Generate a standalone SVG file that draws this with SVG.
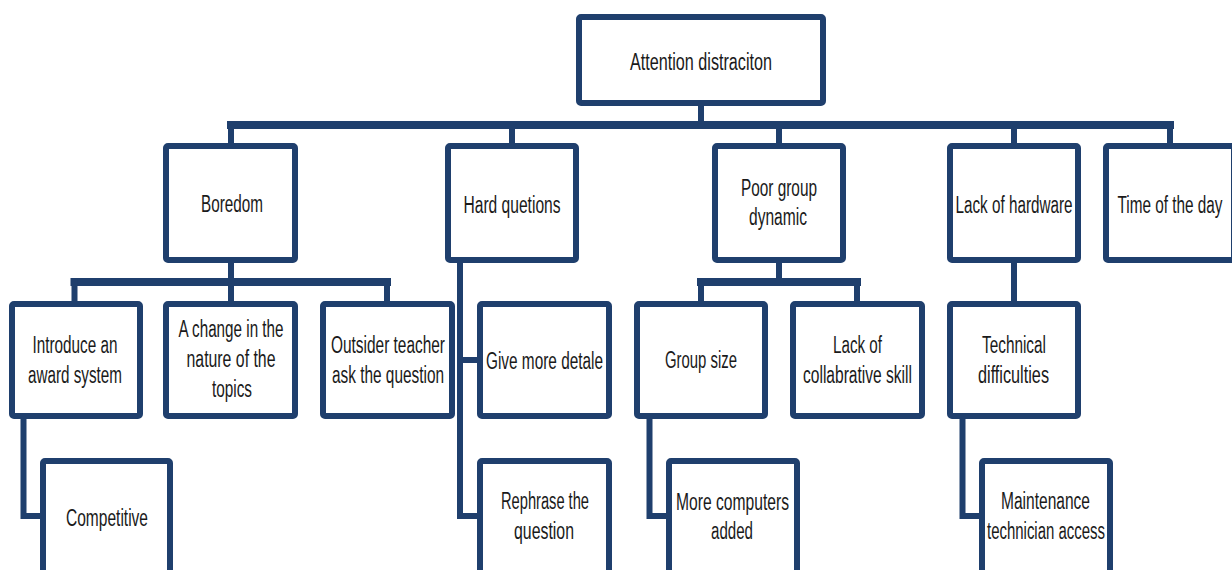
<svg xmlns="http://www.w3.org/2000/svg" width="1232" height="570" viewBox="0 0 1232 570">
<style>
.box{fill:#fff;stroke:#1f3f6d;stroke-width:6;}
.ln{fill:none;stroke:#1f3f6d;stroke-width:6;stroke-linecap:square;}
.bus{fill:none;stroke:#1f3f6d;stroke-width:8;stroke-linecap:square;}
text{font-family:"Liberation Sans",Arial,sans-serif;font-size:23px;fill:#1a1a1a;text-anchor:middle;}
</style>
<rect width="1232" height="570" fill="#fff"/>
<g id="connectors">
<path class="ln" d="M701,106V125"/>
<path class="bus" d="M231,125H1170"/>
<path class="ln" d="M231,125V143M512,125V143M779,125V143M1014,125V143M1170,125V143"/>
<path class="ln" d="M231,263V282"/>
<path class="bus" d="M74.5,282H387"/>
<path class="ln" d="M74.5,282V301M231,282V301M387,282V301"/>
<path class="ln" d="M460,263V516H477M460,360H477"/>
<path class="ln" d="M779,263V282"/>
<path class="bus" d="M701,282H857"/>
<path class="ln" d="M701,282V301M857,282V301"/>
<path class="ln" d="M1014,263V301"/>
<path class="ln" d="M23.5,419V516H40"/>
<path class="ln" d="M649.5,419V516H666"/>
<path class="ln" d="M962.5,419V516H979"/>
</g>
<g id="n-root"><rect class="box" x="579" y="17" width="244" height="86" rx="2"/><text x="701" y="70" textLength="142" lengthAdjust="spacingAndGlyphs">Attention distraciton</text></g>
<g id="n-boredom"><rect class="box" x="166" y="146" width="129" height="114" rx="2"/><text x="232" y="212" textLength="62" lengthAdjust="spacingAndGlyphs">Boredom</text></g>
<g id="n-hard"><rect class="box" x="448" y="146" width="128" height="114" rx="2"/><text x="512" y="213" textLength="97" lengthAdjust="spacingAndGlyphs">Hard quetions</text></g>
<g id="n-poor"><rect class="box" x="715" y="146" width="128" height="114" rx="2"/><text x="779" y="196" textLength="76" lengthAdjust="spacingAndGlyphs">Poor group</text><text x="778" y="225" textLength="58" lengthAdjust="spacingAndGlyphs">dynamic</text></g>
<g id="n-hardware"><rect class="box" x="950" y="146" width="128" height="114" rx="2"/><text x="1014" y="213" textLength="117" lengthAdjust="spacingAndGlyphs">Lack of hardware</text></g>
<g id="n-time"><rect class="box" x="1106" y="146" width="128" height="114" rx="2"/><text x="1170" y="213" textLength="105" lengthAdjust="spacingAndGlyphs">Time of the day</text></g>
<g id="n-introduce"><rect class="box" x="12" y="304" width="128" height="112" rx="2"/><text x="75" y="353" textLength="85" lengthAdjust="spacingAndGlyphs">Introduce an</text><text x="75" y="383" textLength="94" lengthAdjust="spacingAndGlyphs">award system</text></g>
<g id="n-change"><rect class="box" x="166" y="304" width="129" height="112" rx="2"/><text x="231" y="337" textLength="105" lengthAdjust="spacingAndGlyphs">A change in the</text><text x="231" y="367" textLength="89" lengthAdjust="spacingAndGlyphs">nature of the</text><text x="232" y="397" textLength="40" lengthAdjust="spacingAndGlyphs">topics</text></g>
<g id="n-outsider"><rect class="box" x="323" y="304" width="129" height="112" rx="2"/><text x="388" y="353" textLength="114" lengthAdjust="spacingAndGlyphs">Outsider teacher</text><text x="388" y="383" textLength="112" lengthAdjust="spacingAndGlyphs">ask the question</text></g>
<g id="n-give"><rect class="box" x="480" y="304" width="129" height="112" rx="2"/><text x="544.5" y="369" textLength="117" lengthAdjust="spacingAndGlyphs">Give more detale</text></g>
<g id="n-groupsize"><rect class="box" x="637" y="304" width="128" height="112" rx="2"/><text x="701" y="368" textLength="72" lengthAdjust="spacingAndGlyphs">Group size</text></g>
<g id="n-collab"><rect class="box" x="793" y="304" width="129" height="112" rx="2"/><text x="857.5" y="353" textLength="49" lengthAdjust="spacingAndGlyphs">Lack of</text><text x="857.5" y="383" textLength="109" lengthAdjust="spacingAndGlyphs">collabrative skill</text></g>
<g id="n-technical"><rect class="box" x="950" y="304" width="128" height="112" rx="2"/><text x="1014" y="353" textLength="64" lengthAdjust="spacingAndGlyphs">Technical</text><text x="1013.5" y="383" textLength="71" lengthAdjust="spacingAndGlyphs">difficulties</text></g>
<g id="n-competitive"><rect class="box" x="43" y="461" width="127" height="130" rx="2"/><text x="107" y="526" textLength="82" lengthAdjust="spacingAndGlyphs">Competitive</text></g>
<g id="n-rephrase"><rect class="box" x="480" y="461" width="129" height="130" rx="2"/><text x="545" y="509" textLength="88" lengthAdjust="spacingAndGlyphs">Rephrase the</text><text x="544" y="539" textLength="60" lengthAdjust="spacingAndGlyphs">question</text></g>
<g id="n-computers"><rect class="box" x="669" y="461" width="128" height="130" rx="2"/><text x="732.5" y="510" textLength="113" lengthAdjust="spacingAndGlyphs">More computers</text><text x="732" y="539" textLength="42" lengthAdjust="spacingAndGlyphs">added</text></g>
<g id="n-maintenance"><rect class="box" x="982" y="461" width="128" height="130" rx="2"/><text x="1045.5" y="509" textLength="89" lengthAdjust="spacingAndGlyphs">Maintenance</text><text x="1046" y="539" textLength="118" lengthAdjust="spacingAndGlyphs">technician access</text></g>
</svg>
